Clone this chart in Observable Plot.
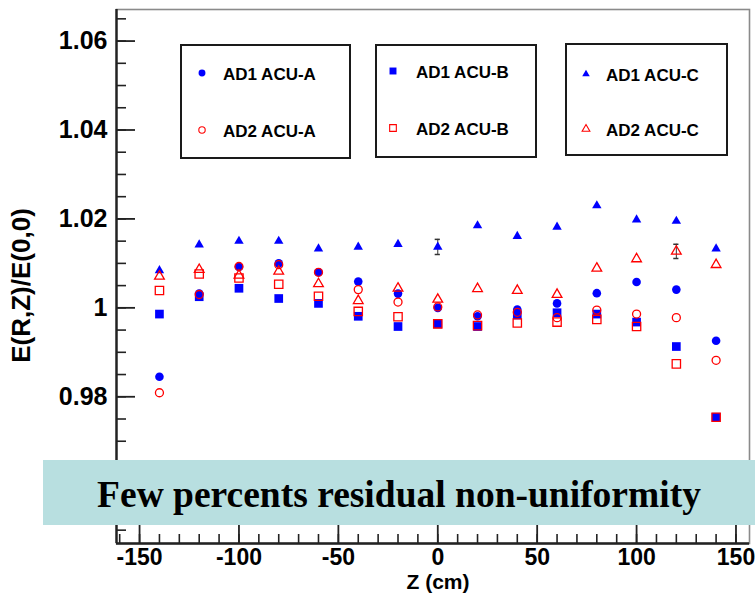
<!DOCTYPE html>
<html><head><meta charset="utf-8">
<script src="https://cdn.jsdelivr.net/npm/d3@7"></script>
<script src="https://cdn.jsdelivr.net/npm/@observablehq/plot@0.6"></script>
<style>
html,body{margin:0;padding:0;background:#fff;}
#wrap{position:relative;width:755px;height:597px;overflow:hidden;font-family:"Liberation Sans",Arial,Helvetica,sans-serif;}
#wrap svg.plot{position:absolute;left:0;top:0;}
.legbox{position:absolute;border:2px solid #1a1a1a;box-sizing:border-box;background:#fff;}
.legtext{position:absolute;font-weight:bold;font-size:17px;line-height:1;color:#000;transform:translateY(-50%);white-space:nowrap;}
.legmark{position:absolute;overflow:visible;}
#banner{position:absolute;left:43px;top:460px;width:712px;height:65px;background:#b8dfe0;display:flex;align-items:center;justify-content:center;font-family:"Liberation Serif","Times New Roman",serif;font-weight:bold;font-size:37.5px;color:#000;white-space:nowrap;padding-top:4px;box-sizing:border-box;}
</style></head><body>
<div id="wrap"></div>
<script>
// ---- data ----
const zCm = [-140, -120, -100, -80, -60, -40, -20, 0, 20, 40, 60, 80, 100, 120, 140];
const ad1AcuA = [0.9845, 1.0032, 1.0092, 1.0100, 1.0080, 1.0059, 1.0032, 1.0000, 0.9981, 0.9996, 1.0010, 1.0033, 1.0058, 1.0041, 0.9926];
const ad2AcuA = [0.9809, 1.0030, 1.0093, 1.0097, 1.0080, 1.0041, 1.0013, 1.0002, 0.9984, 0.9990, 0.9978, 0.9995, 0.9986, 0.9978, 0.9882];
const ad1AcuB = [0.9986, 1.0025, 1.0044, 1.0021, 1.0010, 0.9981, 0.9958, 0.9964, 0.9958, 0.9984, 0.9989, 0.9986, 0.9968, 0.9913, 0.9754];
const ad2AcuB = [1.0039, 1.0076, 1.0067, 1.0053, 1.0026, 0.9992, 0.9980, 0.9964, 0.9960, 0.9966, 0.9968, 0.9974, 0.9958, 0.9874, 0.9754];
const ad1AcuC = [1.0084, 1.0142, 1.0150, 1.0150, 1.0133, 1.0137, 1.0143, 1.0137, 1.0185, 1.0161, 1.0182, 1.0230, 1.0198, 1.0195, 1.0133];
const ad2AcuC = [1.0071, 1.0086, 1.0073, 1.0082, 1.0054, 1.0016, 1.0044, 1.0019, 1.0043, 1.0039, 1.0030, 1.0089, 1.0110, 1.0127, 1.0097];
const ad1AcuCErr = [0, 0, 0, 0, 0, 0, 0, 0.0017, 0, 0, 0, 0, 0, 0, 0];
const ad2AcuCErr = [0, 0, 0, 0, 0, 0, 0, 0, 0, 0, 0, 0, 0, 0.0016, 0];
const seriesNames = ["AD1 ACU-A", "AD2 ACU-A", "AD1 ACU-B", "AD2 ACU-B", "AD1 ACU-C", "AD2 ACU-C"];

const yMajorTicks = [0.98, 1.00, 1.02, 1.04, 1.06];
const yTickLabels = ["0.98", "1", "1.02", "1.04", "1.06"];
const yMinorTicks = [0.950, 0.955, 0.960, 0.965, 0.970, 0.975, 0.980, 0.985, 0.990, 0.995, 1.000, 1.005, 1.010, 1.015, 1.020, 1.025, 1.030, 1.035, 1.040, 1.045, 1.050, 1.055, 1.060, 1.065];
const xMajorTicks = [-150, -100, -50, 0, 50, 100, 150];
const xTickLabels = ["-150", "-100", "-50", "0", "50", "100", "150"];
const xMinorTicks = [-160, -150, -140, -130, -120, -110, -100, -90, -80, -70, -60, -50, -40, -30, -20, -10, 0, 10, 20, 30, 40, 50, 60, 70, 80, 90, 100, 110, 120, 130, 140, 150];
const xTitle = "Z (cm)";
const yTitle = "E(R,Z)/E(0,0)";
const bannerText = "Few percents residual non-uniformity";

// ---- build table ----
const seriesValues = [ad1AcuA, ad2AcuA, ad1AcuB, ad2AcuB, ad1AcuC, ad2AcuC];
const seriesErrors = [null, null, null, null, ad1AcuCErr, ad2AcuCErr];
const table = [];
seriesNames.forEach((name, s) => zCm.forEach((z, i) => {
  const e = seriesErrors[s] ? seriesErrors[s][i] : 0;
  table.push({series: name, z, v: seriesValues[s][i], err: e});
}));

// ---- style ----
const BLUE = "#0000ff", RED = "#ff0000";
const styles = {
  "AD1 ACU-A": {symbol: "circle", r: 4.3, fill: BLUE, stroke: "none", sw: 0},
  "AD2 ACU-A": {symbol: "circle", r: 4.0, fill: "none", stroke: RED, sw: 1.3},
  "AD1 ACU-B": {symbol: "square", r: 4.9, fill: BLUE, stroke: "none", sw: 0},
  "AD2 ACU-B": {symbol: "square", r: 4.7, fill: "none", stroke: RED, sw: 1.3},
  "AD1 ACU-C": {symbol: "triangle", r: 3.5, fill: BLUE, stroke: "none", sw: 0},
  "AD2 ACU-C": {symbol: "triangle", r: 3.6, fill: "none", stroke: RED, sw: 1.3}
};

const W = 755, H = 597, mL = 116, mR = 6, mT = 9, mB = 54;
const frameW = W - mL - mR, frameH = H - mT - mB;
const xDomain = [-161.6, 156.8], yDomain = [0.9470, 1.0671];
const yLabelMap = new Map(yMajorTicks.map((d, i) => [d, yTickLabels[i]]));
const xLabelMap = new Map(xMajorTicks.map((d, i) => [d, xTickLabels[i]]));
const FONT = "Liberation Sans, Arial, Helvetica, sans-serif";

const dotMarks = [];
const order = ["AD1 ACU-C", "AD1 ACU-A", "AD1 ACU-B", "AD2 ACU-C", "AD2 ACU-A", "AD2 ACU-B"];
for (const name of order) {
  const st = styles[name];
  dotMarks.push(Plot.dot(table.filter(d => d.series === name), {
    x: "z", y: "v", symbol: () => st.symbol, r: st.r,
    fill: st.fill, stroke: st.stroke, strokeWidth: st.sw
  }));
}
const errRows = table.filter(d => d.err > 0);

const chart = Plot.plot({
  width: W, height: H,
  marginLeft: mL, marginRight: mR, marginTop: mT, marginBottom: mB,
  style: {fontFamily: FONT, background: "white", overflow: "visible"},
  x: {domain: xDomain, axis: null},
  y: {domain: yDomain, axis: null},
  symbol: {type: "identity"},
  marks: [
    Plot.frame({stroke: "#8a8a8a", strokeWidth: 1.6}),
    // error bars
    Plot.ruleX(errRows, {x: "z", y1: d => d.v - d.err, y2: d => d.v + d.err, stroke: "#333", strokeWidth: 1}),
    Plot.ruleY(errRows, {y: d => d.v + d.err, x1: d => d.z - 1.3, x2: d => d.z + 1.3, stroke: "#333", strokeWidth: 1.5}),
    Plot.ruleY(errRows, {y: d => d.v - d.err, x1: d => d.z - 1.3, x2: d => d.z + 1.3, stroke: "#333", strokeWidth: 1.5}),
    ...dotMarks,
    // axis lines
    Plot.ruleX([xDomain[0]], {stroke: "#222", strokeWidth: 2.4}),
    Plot.ruleY([yDomain[0]], {stroke: "#222", strokeWidth: 2.4}),
    // ticks (pointing inward)
    Plot.tickY(yMinorTicks, {y: d => d, insetRight: frameW - 10, stroke: "#222", strokeWidth: 1.6}),
    Plot.tickY(yMajorTicks, {y: d => d, insetRight: frameW - 19, stroke: "#222", strokeWidth: 1.8}),
    Plot.tickX(xMinorTicks, {x: d => d, insetTop: frameH - 9, stroke: "#222", strokeWidth: 1.6}),
    Plot.tickX(xMajorTicks, {x: d => d, insetTop: frameH - 18, stroke: "#222", strokeWidth: 1.8}),
    // tick labels
    Plot.axisY(yMajorTicks, {anchor: "left", tickSize: 0, tickPadding: 9, tickFormat: d => yLabelMap.get(d), fontSize: 25, fontWeight: "bold", fill: "#000", label: null}),
    Plot.axisX(xMajorTicks, {anchor: "bottom", tickSize: 0, tickPadding: 5, tickFormat: d => xLabelMap.get(d), fontSize: 23, fontWeight: "bold", fill: "#000", label: null}),
    // axis titles
    Plot.text([yTitle], {text: d => d, frameAnchor: "left", textAnchor: "middle", rotate: -90, dx: -95, dy: 9, fontSize: 26, fontWeight: "bold", fill: "#000"}),
    Plot.text([xTitle], {text: d => d, frameAnchor: "bottom", textAnchor: "middle", dx: 5, dy: 45, fontSize: 21, fontWeight: "bold", fill: "#000"})
  ]
});
const wrap = document.getElementById("wrap");
wrap.appendChild(chart);

// ---- legend boxes ----
const legendBoxes = [
  {left: 180, top: 44, width: 171, height: 115, markerX: 202, textX: 223, rowY: [73, 130], series: [0, 1]},
  {left: 375, top: 44, width: 162, height: 114, markerX: 393, textX: 416, rowY: [71, 128], series: [2, 3]},
  {left: 565, top: 43, width: 163, height: 113, markerX: 586, textX: 606, rowY: [74, 129], series: [4, 5]}
];
const symMap = {circle: d3.symbolCircle, square: d3.symbolSquare, triangle: d3.symbolTriangle};
for (const b of legendBoxes) {
  const box = document.createElement("div");
  box.className = "legbox";
  Object.assign(box.style, {left: b.left + "px", top: b.top + "px", width: b.width + "px", height: b.height + "px"});
  wrap.appendChild(box);
  b.series.forEach((si, k) => {
    const name = seriesNames[si], st = styles[name];
    const y = b.rowY[k];
    const svg = d3.select(wrap).append("svg").attr("class", "legmark")
      .attr("width", 16).attr("height", 16)
      .style("left", (b.markerX - 8) + "px").style("top", (y - 8) + "px");
    const rr = st.r * 0.8;
    svg.append("path")
      .attr("transform", "translate(8,8)")
      .attr("d", d3.symbol(symMap[st.symbol], Math.PI * rr * rr)())
      .attr("fill", st.fill).attr("stroke", st.stroke).attr("stroke-width", st.sw ? 1.1 : 0);
    const t = document.createElement("div");
    t.className = "legtext";
    t.textContent = name;
    t.style.left = b.textX + "px";
    t.style.top = (y + 1) + "px";
    wrap.appendChild(t);
  });
}

// ---- banner ----
const banner = document.createElement("div");
banner.id = "banner";
banner.textContent = bannerText;
wrap.appendChild(banner);
</script>
</body></html>
